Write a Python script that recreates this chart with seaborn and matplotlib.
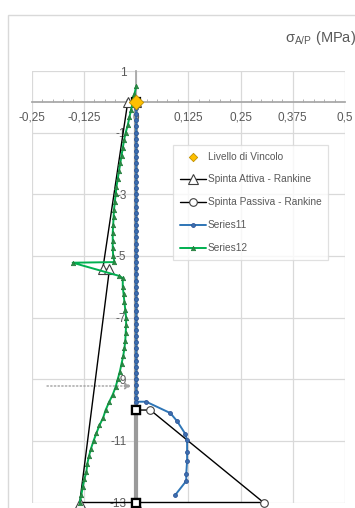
import matplotlib
matplotlib.use("Agg")
import matplotlib.pyplot as plt
import matplotlib.patches as mpatches
import seaborn as sns

# --- data (x = stress in MPa, y = depth in m) ---
vincolo_x = [0.0]
vincolo_y = [0.0]

attiva_x = [0.0, -0.020, -0.080, -0.064, -0.135, 0.0]
attiva_y = [0.0, 0.0, -5.44, -5.44, -13.0, -13.0]

passiva_x = [0.0, 0.034, 0.305, 0.0]
passiva_y = [-10.0, -10.0, -13.0, -13.0]

# wall (not in legend)
wall_x = [0.0, 0.0, 0.0]
wall_y = [0.0, -10.0, -13.0]

s11_y = [0.0, -0.2, -0.4, -0.6, -0.8, -1.0, -1.2, -1.4, -1.6, -1.8,
         -2.0, -2.2, -2.4, -2.6, -2.8, -3.0, -3.2, -3.4, -3.6, -3.8,
         -4.0, -4.2, -4.4, -4.6, -4.8, -5.0, -5.2, -5.4, -5.6, -5.8,
         -6.0, -6.2, -6.4, -6.6, -6.8, -7.0, -7.2, -7.4, -7.6, -7.8,
         -8.0, -8.2, -8.4, -8.6, -8.8, -9.0, -9.2, -9.4, -9.6, -9.73,
         -9.73, -10.1, -10.36, -10.78, -10.97, -11.36, -11.65, -12.07, -12.3, -12.75]
s11_x = [0.0, 0.0, 0.0, 0.0, 0.0, 0.0, 0.0, 0.0, 0.0, 0.0,
         0.0, 0.0, 0.0, 0.0, 0.0, 0.0, 0.0, 0.0, 0.0, 0.0,
         0.0, 0.0, 0.0, 0.0, 0.0, 0.0, 0.0, 0.0, 0.0, 0.0,
         0.0, 0.0, 0.0, 0.0, 0.0, 0.0, 0.0, 0.0, 0.0, 0.0,
         0.0, 0.0, 0.0, 0.0, 0.0, 0.0, 0.0, 0.0, 0.0, 0.0,
         0.024, 0.082, 0.098, 0.118, 0.122, 0.122, 0.122, 0.120, 0.120, 0.094]

s12_y = [0.5, 0.25, 0.0, -0.25, -0.5, -0.75, -1.0, -1.25, -1.5, -1.75,
         -2.0, -2.25, -2.5, -2.75, -3.0, -3.25, -3.5, -3.75, -4.0, -4.25,
         -4.5, -4.75, -5.0, -5.2, -5.22, -5.65, -5.72, -6.0, -6.25, -6.5,
         -6.75, -7.0, -7.25, -7.5, -7.75, -8.0, -8.25, -8.5, -8.75, -9.0,
         -9.25, -9.5, -9.75, -10.0, -10.25, -10.5, -10.75, -11.0, -11.25, -11.5,
         -11.75, -12.0, -12.25, -12.5, -12.75, -13.0]
s12_x = [0.0, -0.004, -0.008, -0.012, -0.016, -0.020, -0.025, -0.029, -0.032, -0.035,
         -0.038, -0.041, -0.044, -0.047, -0.049, -0.051, -0.053, -0.054, -0.055, -0.056,
         -0.056, -0.056, -0.055, -0.052, -0.152, -0.040, -0.032, -0.032, -0.030, -0.028,
         -0.026, -0.024, -0.024, -0.025, -0.026, -0.028, -0.031, -0.035, -0.039, -0.044,
         -0.049, -0.056, -0.065, -0.073, -0.079, -0.088, -0.095, -0.102, -0.108, -0.113,
         -0.117, -0.119, -0.124, -0.128, -0.131, -0.135]

x_ticks = [-0.25, -0.125, 0.0, 0.125, 0.25, 0.375, 0.5]
x_labels = ["-0,25", "-0,125", "0", "0,125", "0,25", "0,375", "0,5"]
y_ticks = [1, -1, -3, -5, -7, -9, -11, -13]
y_labels = ["1", "-1", "-3", "-5", "-7", "-9", "-11", "-13"]

water_level = -9.22

sns.set_theme(style="white")
plt.rcParams['font.family'] = ['Liberation Sans', 'DejaVu Sans']
plt.rcParams['mathtext.fontset'] = 'custom'
plt.rcParams['mathtext.rm'] = 'Liberation Sans'
plt.rcParams['mathtext.default'] = 'regular'
plt.rcParams['axes.unicode_minus'] = False

grey_txt = '#595959'
grid_c = '#D9D9D9'

fig = plt.figure(figsize=(3.55, 5.08), dpi=100)
ax = fig.add_axes([31.7 / 355, 5.5 / 508, (345 - 31.7) / 355, (502.5 - 71) / 508])
ax.set_facecolor('white')

# gridlines
for xv in x_ticks:
    ax.axvline(xv, color=grid_c, lw=0.9, zorder=0)
for yv in y_ticks:
    ax.axhline(yv, color=grid_c, lw=0.9, zorder=0)

# wall
sns.lineplot(x=wall_x, y=wall_y, sort=False, estimator=None, ax=ax, color='#9A9A9A', lw=3,
             marker='s', markersize=6, markerfacecolor='white', markeredgecolor='black',
             markeredgewidth=1.6, clip_on=False, zorder=3, label='_nolegend_')

sns.lineplot(x=attiva_x, y=attiva_y, sort=False, estimator=None, ax=ax, color='black', lw=1.0,
             marker='^', markersize=6.5, markerfacecolor='white', markeredgecolor='#404040',
             markeredgewidth=0.8, clip_on=False, zorder=4, label='Spinta Attiva - Rankine')

sns.lineplot(x=passiva_x, y=passiva_y, sort=False, estimator=None, ax=ax, color='black', lw=1.0,
             marker='o', markersize=5.5, markerfacecolor='white', markeredgecolor='#404040',
             markeredgewidth=0.8, clip_on=False, zorder=4, label='Spinta Passiva - Rankine')

sns.lineplot(x=s11_x, y=s11_y, sort=False, estimator=None, ax=ax, color='#2E75B6', lw=1.4,
             marker='o', markersize=2.8, markerfacecolor='#3D6FB0', markeredgecolor='#2F5597',
             markeredgewidth=0.6, clip_on=False, zorder=5, label='Series11')

sns.lineplot(x=s12_x, y=s12_y, sort=False, estimator=None, ax=ax, color='#00B050', lw=1.4,
             marker='^', markersize=3.2, markerfacecolor='#2E8B47', markeredgecolor='#1E7A38',
             markeredgewidth=0.5, clip_on=False, zorder=6, label='Series12')

# re-draw wall squares on top of blue line
ax.plot([wall_x[1], wall_x[2]], [wall_y[1], wall_y[2]], ls='none', marker='s', markersize=6,
        markerfacecolor='white', markeredgecolor='black', markeredgewidth=1.6, clip_on=False,
        zorder=7)

sns.scatterplot(x=vincolo_x, y=vincolo_y, ax=ax, marker='D', s=55, color='#FFC000',
                edgecolor='#BF9000', linewidth=0.6, zorder=8, clip_on=False,
                label='Livello di Vincolo')

# water level arrow
ax.annotate('', xy=(-0.004, water_level), xytext=(-0.22, water_level),
            arrowprops=dict(arrowstyle='-|>', color='#A0A0A0', lw=1.0, ls=':',
                            mutation_scale=10), zorder=2)

ax.set_xlim(-0.25, 0.5)
ax.set_ylim(-13, 1)

ax.spines['bottom'].set_position(('data', 0))
ax.spines['left'].set_position(('data', 0))
ax.spines['bottom'].set_color('#A6A6A6')
ax.spines['left'].set_color('#A6A6A6')
for s in ['top', 'right']:
    ax.spines[s].set_visible(False)

ax.set_xticks(x_ticks)
ax.set_xticklabels(x_labels)
ax.set_xticks([v / 1000 for v in range(-250, 501, 25)], minor=True)
ax.set_yticks(y_ticks)
ax.set_yticklabels(y_labels)
ax.tick_params(axis='x', which='major', length=0, pad=7, labelsize=8.5, labelcolor=grey_txt)
ax.tick_params(axis='x', which='minor', length=2.5, width=0.6, direction='in', color='#A6A6A6',
               bottom=True)
ax.tick_params(axis='y', which='major', length=0, pad=7, labelsize=8.5, labelcolor=grey_txt,
               left=True)

# legend with handles in the chart's order
h, l = ax.get_legend_handles_labels()
order = ['Livello di Vincolo', 'Spinta Attiva - Rankine', 'Spinta Passiva - Rankine',
         'Series11', 'Series12']
hd = dict(zip(l, h))
leg = ax.legend([hd[k] for k in order], order, loc='upper left',
                bbox_to_anchor=(173 / 355, 1 - 145 / 508), bbox_transform=fig.transFigure,
                fontsize=7.3, frameon=True, fancybox=False, borderaxespad=0, borderpad=0.65,
                labelspacing=1.27, handlelength=2.6, handletextpad=0.2, labelcolor=grey_txt)
leg.get_frame().set_edgecolor(grid_c)
leg.get_frame().set_linewidth(0.9)
# smaller diamond in the legend, as in the original
leg.legend_handles[0].set_sizes([18])

# title and chart-area border
fig.text(285 / 355, 1 - 38 / 508, r'$\sigma_{A/P}$ (MPa)', ha='left', va='center',
         fontsize=10.5, color=grey_txt)
fig.add_artist(mpatches.Rectangle((8 / 355, -0.1), 1.2, 1.1 - 15 / 508, transform=fig.transFigure,
                                  fill=False, edgecolor=grid_c, lw=1.0))

fig.savefig('out.png', dpi=100)
